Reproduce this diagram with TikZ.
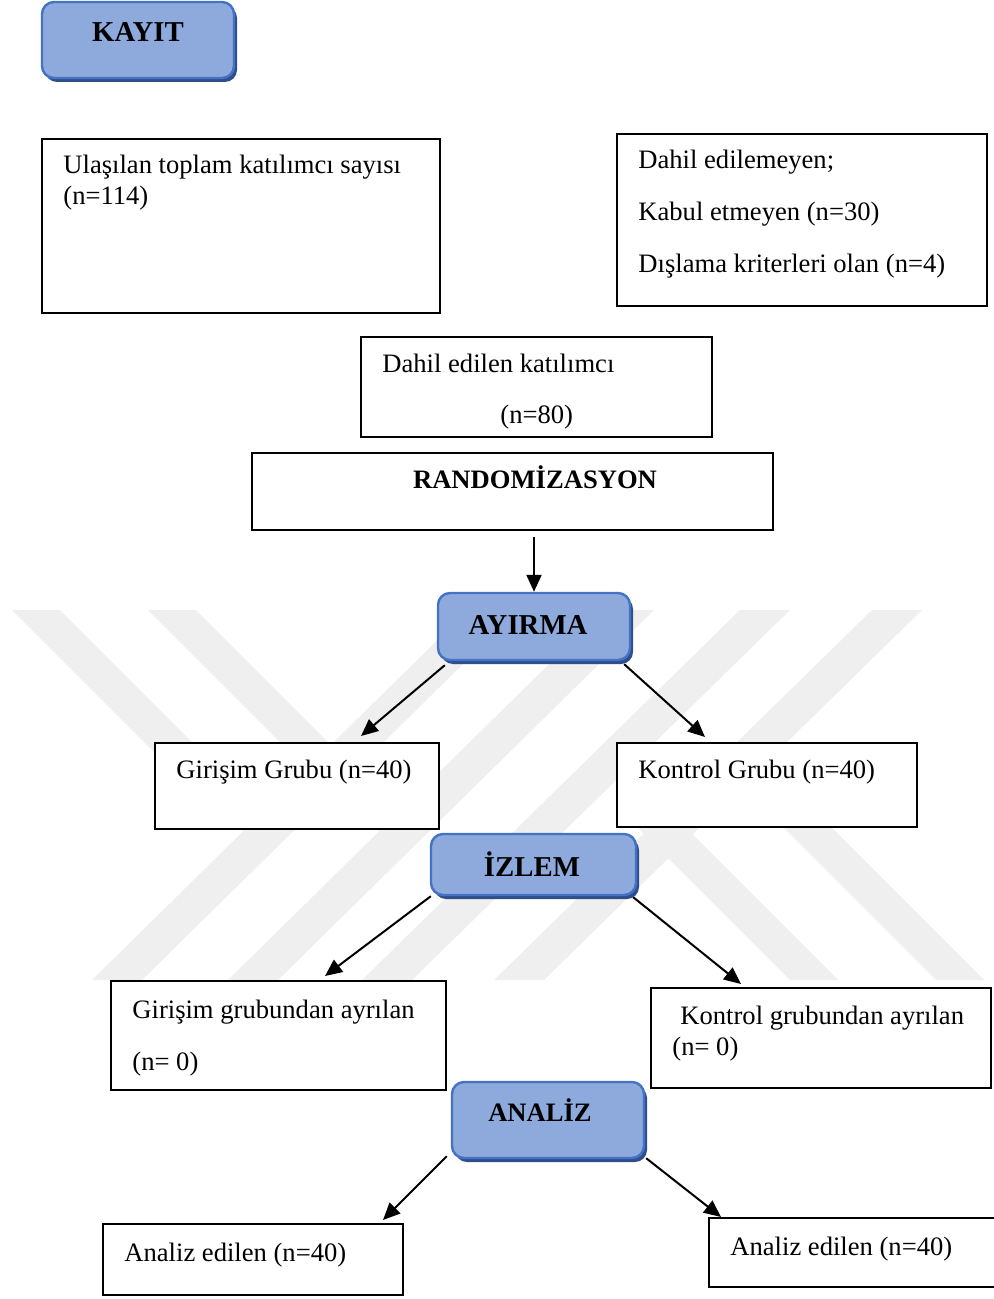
\documentclass[tikz,border=0pt]{standalone}
\usepackage{fontspec}
\setmainfont{Liberation Serif}
\usetikzlibrary{arrows.meta,fit,calc}
\definecolor{boxfill}{HTML}{8EA9DB}
\definecolor{boxline}{HTML}{4472C4}
\definecolor{boxshadow}{HTML}{2F4F8A}
\definecolor{wm}{HTML}{EFEFEF}
\tikzset{
  pbox/.style={draw=black, line width=1pt, fill=white, inner sep=0pt},
  rbox/.style={draw=boxline, line width=1.2pt, fill=boxfill, rounded corners=6pt, inner sep=0pt,
    preaction={fill=boxshadow, transform canvas={shift={(1.5pt,-2pt)}}}},
  lbl/.style={anchor=base west, inner sep=0pt},
  ttl/.style={anchor=base, inner sep=0pt, font=\fontsize{13.3}{16}\selectfont\bfseries},
  bigttl/.style={anchor=base, inner sep=0pt, font=\fontsize{14.4}{17}\selectfont\bfseries},
  arr/.style={line width=1pt, -{Triangle[length=8.5pt,width=7.5pt]}},
  band/.style={fill=wm}
}
\begin{document}
\begin{tikzpicture}[x=0.5pt,y=-0.5pt, font=\fontsize{13.3}{16}\selectfont]
\useasboundingbox (0,0) rectangle (993,1299);
% watermark
\fill[band] (468,610) -- (518,610) -- (142,980) -- (92,980) -- cycle;
\fill[band] (604,610) -- (654,610) -- (278,980) -- (228,980) -- cycle;
\fill[band] (740,610) -- (790,610) -- (412,980) -- (362,980) -- cycle;
\fill[band] (872,610) -- (922,610) -- (544,980) -- (494,980) -- cycle;
\fill[band] (12,610) -- (60,610) -- (250,800) -- (202,800) -- cycle;
\fill[band] (148,610) -- (196,610) -- (386,800) -- (338,800) -- cycle;
\fill[band] (620,810) -- (668,810) -- (838,980) -- (790,980) -- cycle;
\fill[band] (766,810) -- (814,810) -- (984,980) -- (936,980) -- cycle;

% boxes
\node[rbox, fit={(42,2)(234,78)}] (kayit) {};
\node[bigttl] (tkayit) at (138,42) {KAYIT};

\node[pbox, fit={(42,139)(440,313)}] (ul) {};
\node[lbl] (tul1) at (63,174) {Ulaşılan toplam katılımcı sayısı};
\node[lbl] (tul2) at (63,205) {(n=114)};

\node[pbox, fit={(617,134)(987,306)}] (dh) {};
\node[lbl] (tdh1) at (638,169) {Dahil edilemeyen;};
\node[lbl] (tdh2) at (638,221) {Kabul etmeyen (n=30)};
\node[lbl] (tdh3) at (638,273) {Dışlama kriterleri olan (n=4)};

\node[pbox, fit={(361,337)(712,437)}] (de) {};
\node[lbl] (tde1) at (382,372) {Dahil edilen katılımcı};
\node[lbl] (tde2) at (500,423) {(n=80)};

\node[pbox, fit={(252,453)(773,530)}] (rand) {};
\node[ttl] (trand) at (535,488) {RANDOMİZASYON};

\node[rbox, fit={(438,593)(630,660)}] (ayirma) {};
\node[bigttl] (tayirma) at (528,634) {AYIRMA};

\node[pbox, fit={(155,743)(439,829)}] (giris) {};
\node[lbl] (tgiris) at (176,778) {Girişim Grubu (n=40)};

\node[pbox, fit={(617,743)(917,827)}] (kontrol) {};
\node[lbl] (tkontrol) at (638,778) {Kontrol Grubu (n=40)};

\node[rbox, fit={(431,834)(636,895)}] (izlem) {};
\node[bigttl] (tizlem) at (532,876) {İZLEM};

\node[pbox, fit={(111,981)(446,1090)}] (gayr) {};
\node[lbl] (tgayr1) at (132,1018) {Girişim grubundan ayrılan};
\node[lbl] (tgayr2) at (132,1070) {(n= 0)};

\node[pbox, fit={(651,988)(991,1088)}] (kayr) {};
\node[lbl] (tkayr1) at (680,1024) {Kontrol grubundan ayrılan};
\node[lbl] (tkayr2) at (672,1055) {(n= 0)};

\node[rbox, fit={(452,1082)(644,1158)}] (analiz) {};
\node[ttl] (tanaliz) at (540,1121) {ANALİZ};

\node[pbox, fit={(103,1224)(403,1295)}] (an1) {};
\node[lbl] (tan1) at (124,1261) {Analiz edilen (n=40)};

\node[pbox, fit={(709,1218)(1004,1287)}] (an2) {};
\node[lbl] (tan2) at (730,1255) {Analiz edilen (n=40)};

% connectors
\draw[arr] ($(rand.south -| ayirma.north)+(0,6)$) -- (ayirma.north);
\draw[arr] ($(ayirma.south west)+(8,4)$) -- ($(giris.north west)+(207,-6)$);
\draw[arr] ($(ayirma.south east)+(-7,3)$) -- ($(kontrol.north west)+(89,-5)$);
\draw[arr] ($(izlem.south west)+(1,0)$) -- ($(gayr.north west)+(215,-4)$);
\draw[arr] ($(izlem.south east)+(-4,1)$) -- ($(kayr.north west)+(91,-3)$);
\draw[arr] ($(analiz.south west)+(-4,-3)$) -- ($(an1.north west)+(281,-3)$);
\draw[arr] ($(analiz.south east)+(1,-1)$) -- ($(an2.north west)+(13,0)$);
\end{tikzpicture}
\end{document}
